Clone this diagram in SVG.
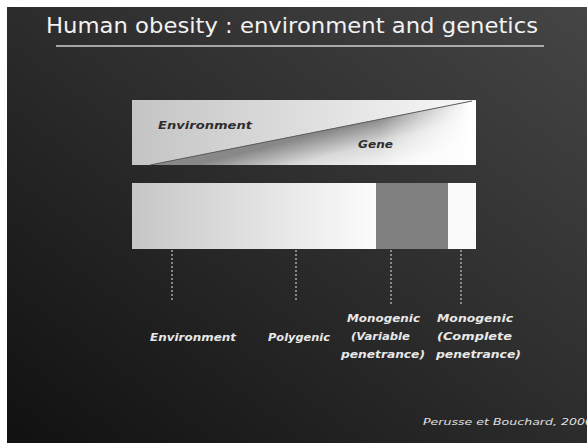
<svg xmlns="http://www.w3.org/2000/svg" width="587" height="443" viewBox="0 0 587 443">
<defs>
<linearGradient id="bg" x1="1" y1="0" x2="0" y2="1">
<stop offset="0" stop-color="#454545"/>
<stop offset="0.5" stop-color="#2c2c2c"/>
<stop offset="1" stop-color="#111111"/>
</linearGradient>
<linearGradient id="topbox" x1="0" y1="0" x2="1" y2="0">
<stop offset="0" stop-color="#c4c4c4"/>
<stop offset="1" stop-color="#f8f8f8"/>
</linearGradient>
<linearGradient id="gene" gradientUnits="userSpaceOnUse" x1="360" y1="123" x2="372" y2="170">
<stop offset="0" stop-color="#888888"/>
<stop offset="0.5" stop-color="#dadada"/>
<stop offset="1" stop-color="#f6f6f6"/>
</linearGradient>
<linearGradient id="fadeR" gradientUnits="userSpaceOnUse" x1="380" y1="0" x2="470" y2="0">
<stop offset="0" stop-color="#ffffff" stop-opacity="0"/>
<stop offset="1" stop-color="#ffffff" stop-opacity="1"/>
</linearGradient>
<linearGradient id="barg" x1="0" y1="0" x2="1" y2="0">
<stop offset="0" stop-color="#c6c6c6"/>
<stop offset="1" stop-color="#fcfcfc"/>
</linearGradient>
<style>
.lab{font-family:"DejaVu Sans","Liberation Sans",sans-serif;font-style:italic;font-size:11px;fill:#e8e8e8;font-weight:bold}
.dash{stroke:#a8a8a8;stroke-width:1.5;stroke-dasharray:2 2;fill:none}
.boxlab{font-family:"DejaVu Sans","Liberation Sans",sans-serif;font-style:italic;font-weight:bold;fill:#2e2e2e}
</style>
</defs>
<rect x="0" y="0" width="587" height="443" fill="#ffffff"/>
<rect x="7" y="7" width="580" height="436" fill="url(#bg)"/>
<g id="title">
<text x="292" y="33" text-anchor="middle" font-family="'DejaVu Sans','Liberation Sans',sans-serif" font-size="21" fill="#f2f2f2" textLength="492" lengthAdjust="spacingAndGlyphs">Human obesity : environment and genetics</text>
<line x1="56" y1="46" x2="544" y2="46" stroke="#cfcfcf" stroke-width="1.5"/>
</g>
<g id="ratio">
<rect x="132" y="100" width="344" height="65" fill="url(#topbox)"/>
<polygon points="150,165 476,100 476,165" fill="url(#gene)"/>
<polygon points="380,118 476,100 476,165 380,165" fill="url(#fadeR)"/>
<line x1="150" y1="165" x2="472" y2="101" stroke="#5a5a5a" stroke-width="1"/>
<text class="boxlab" x="158" y="129" font-size="11" textLength="94" lengthAdjust="spacingAndGlyphs">Environment</text>
<text class="boxlab" x="358" y="148" font-size="10" textLength="35" lengthAdjust="spacingAndGlyphs">Gene</text>
</g>
<g id="bar">
<rect x="132" y="183" width="244" height="66" fill="url(#barg)"/>
<rect x="376" y="183" width="72" height="66" fill="#808080"/>
<rect x="448" y="183" width="28" height="66" fill="#fafafa"/>
</g>
<g id="connectors">
<line class="dash" x1="172" y1="250" x2="172" y2="302"/>
<line class="dash" x1="296" y1="250" x2="296" y2="300"/>
<line class="dash" x1="391" y1="250" x2="391" y2="305"/>
<line class="dash" x1="461" y1="250" x2="461" y2="305"/>
</g>
<g id="label-environment">
<text class="lab" x="150" y="341" textLength="86" lengthAdjust="spacingAndGlyphs">Environment</text>
</g>
<g id="label-polygenic">
<text class="lab" x="268" y="341" textLength="62" lengthAdjust="spacingAndGlyphs">Polygenic</text>
</g>
<g id="label-mono-variable">
<text class="lab" x="347" y="322" textLength="73" lengthAdjust="spacingAndGlyphs">Monogenic</text>
<text class="lab" x="351" y="340" textLength="59" lengthAdjust="spacingAndGlyphs">(Variable</text>
<text class="lab" x="341" y="358" textLength="84" lengthAdjust="spacingAndGlyphs">penetrance)</text>
</g>
<g id="label-mono-complete">
<text class="lab" x="437" y="322" textLength="76" lengthAdjust="spacingAndGlyphs">Monogenic</text>
<text class="lab" x="437" y="340" textLength="75" lengthAdjust="spacingAndGlyphs">(Complete</text>
<text class="lab" x="436" y="358" textLength="85" lengthAdjust="spacingAndGlyphs">penetrance)</text>
</g>
<g id="footer">
<text x="423" y="425" font-family="'DejaVu Sans','Liberation Sans',sans-serif" font-style="italic" font-size="9" fill="#e0e0e0" textLength="170" lengthAdjust="spacingAndGlyphs">Perusse et Bouchard, 2000</text>
</g>
</svg>
